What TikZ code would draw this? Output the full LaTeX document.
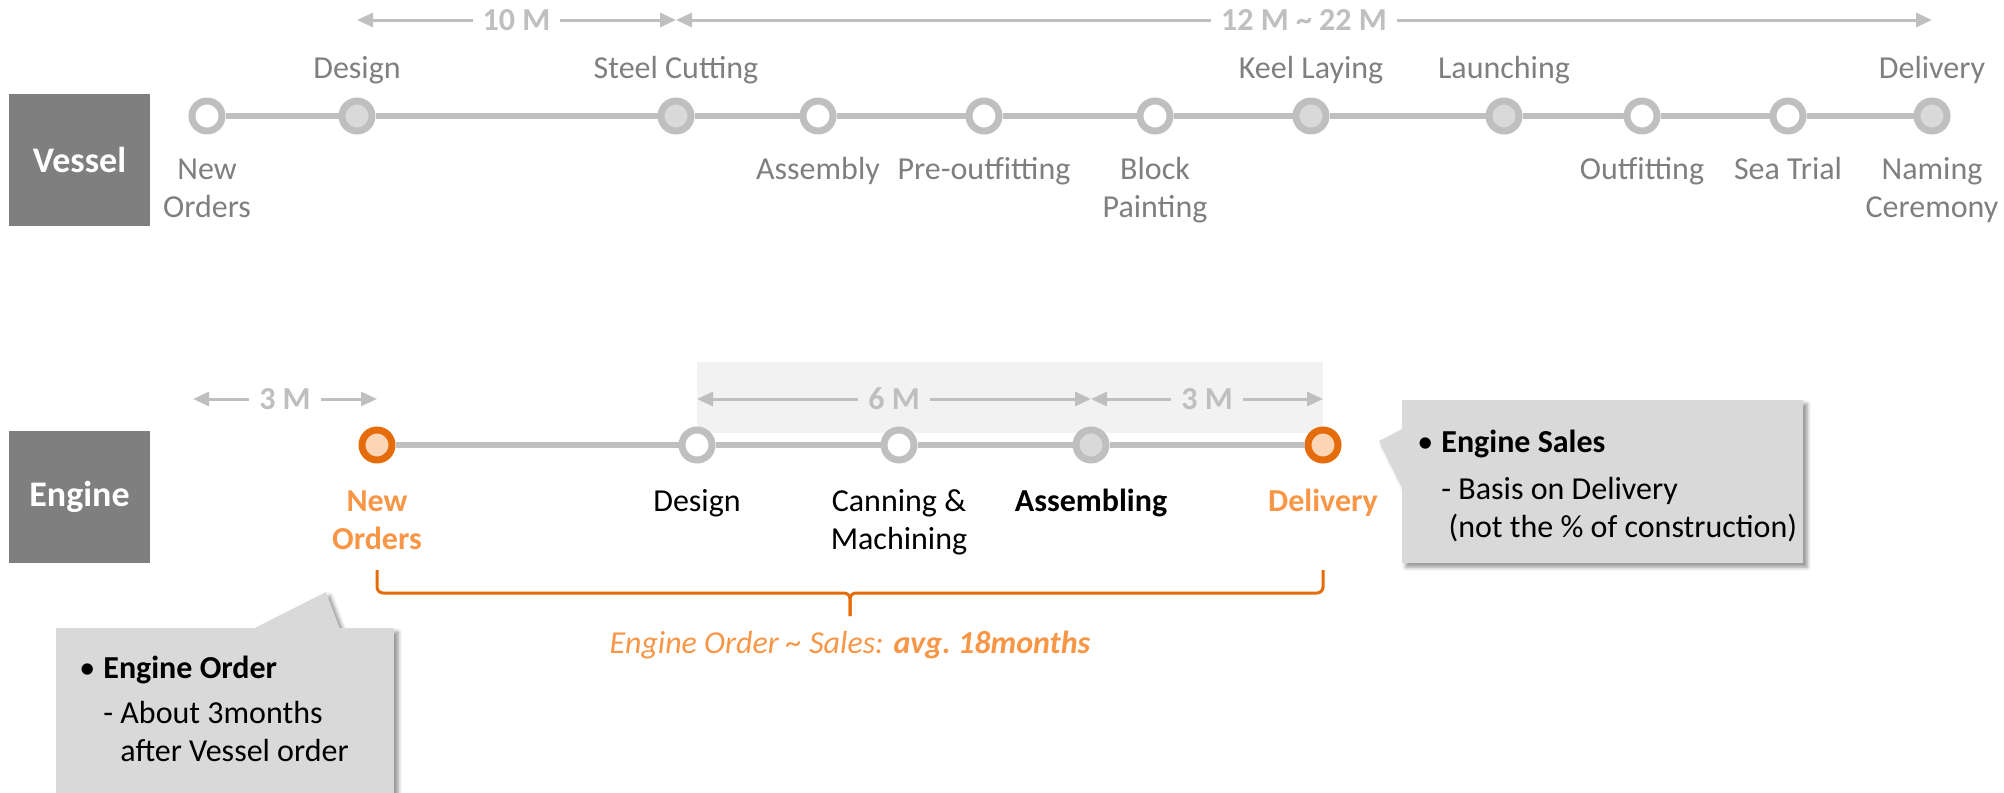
\documentclass[tikz,border=0pt]{standalone}
\usepackage{fontspec}
\setmainfont{Carlito}
\usetikzlibrary{arrows.meta,calc,shapes.callouts,shadows.blur}

\definecolor{boxgray}{HTML}{7F7F7F}
\definecolor{railgray}{HTML}{BFBFBF}
\definecolor{dotgray}{HTML}{D9D9D9}
\definecolor{bandgray}{HTML}{F2F2F2}
\definecolor{notegray}{HTML}{D9D9D9}
\definecolor{rimorange}{HTML}{E46C0A}
\definecolor{dotorange}{HTML}{FBD5B5}
\definecolor{txtorange}{HTML}{F79646}

\newcommand{\lblfont}{\fontsize{16}{19}\selectfont}

\begin{document}
\begin{tikzpicture}[
  x=0.5pt, y=-0.5pt,
  phase/.style={fill=boxgray, text=white, font=\fontsize{18}{22}\selectfont\bfseries, minimum width=70.5pt, minimum height=66pt, inner sep=0pt},
  stage/.style={circle, draw=railgray, fill=white, line width=3.5pt, inner sep=0pt, minimum size=15pt},
  donestage/.style={stage, fill=dotgray},
  keystage/.style={stage, draw=rimorange, fill=dotorange},
  rail/.style={draw=railgray, line width=3pt},
  span/.style={draw=railgray, line width=1.5pt, {Triangle[length=8pt,width=7pt]}-{Triangle[length=8pt,width=7pt]}},
  spanlbl/.style={fill=white, text=railgray, font=\lblfont\bfseries, inner xsep=5pt, inner ysep=1pt},
  vlbl/.style={text=boxgray, font=\lblfont, align=center, inner sep=0pt},
  elbl/.style={text=black, font=\lblfont, align=center, inner sep=0pt},
  elblbold/.style={elbl, font=\lblfont\bfseries},
  elblhot/.style={elbl, text=txtorange, font=\lblfont\bfseries},
  note/.style={rectangle callout, fill=notegray, inner sep=0pt,
    blur shadow={shadow xshift=2pt, shadow yshift=-2pt, shadow blur radius=2pt, shadow opacity=45}},
  notetxt/.style={text=black, font=\lblfont, align=left, inner sep=0pt},
  brace/.style={draw=rimorange, line width=1.5pt, rounded corners=3pt}
]
  \useasboundingbox (0,0) rectangle (2004,793);

  % rows of the two timelines
  \coordinate (vup) at (0,78);
  \coordinate (vdown) at (0,152.4);
  \coordinate (vspan) at (0,20);
  \coordinate (edown) at (0,484.4);
  \coordinate (espan) at (0,399);

  % production window, laid first so the stages sit on it
  \coordinate (bandnw) at (697,362);
  \coordinate (bandse) at (1323,433);
  \fill[bandgray] (bandnw) rectangle (bandse);

  % Vessel
  \node[phase] (vessel) at (79.5,159.5) {Vessel};
  \foreach \i/\x/\kind in {1/207/stage, 2/357/donestage, 3/676/donestage, 4/818/stage,
      5/984/stage, 6/1155/stage, 7/1311/donestage, 8/1504/donestage, 9/1642/stage,
      10/1788/stage, 11/1932/donestage}
    \node[\kind] (v\i) at (\x,116) {};
  \foreach \i [remember=\i as \j (initially 1)] in {2,...,11}
    \draw[rail] (v\j) -- (v\i);

  \foreach \i/\txt in {2/Design, 3/Steel Cutting, 7/Keel Laying, 8/Launching, 11/Delivery}
    \node[vlbl, anchor=base] (vt\i) at (v\i |- vup) {\txt};
  \foreach \i/\txt in {1/New\\Orders, 4/Assembly, 5/Pre-outfitting, 6/Block\\Painting,
      9/Outfitting, 10/Sea Trial, 11/Naming\\Ceremony}
    \node[vlbl, anchor=north] (vb\i) at (v\i |- vdown) {\strut\txt};

  \draw[span] (v2 |- vspan) -- node[spanlbl] (vm1) {10 M} (v3 |- vspan);
  \draw[span] (v3 |- vspan) -- node[spanlbl] (vm2) {12 M \textasciitilde{} 22 M} (v11 |- vspan);

  % Engine
  \node[phase] (engine) at (79.5,496.5) {Engine};
  \foreach \i/\x/\kind in {1/377/keystage, 2/697/stage, 3/899/stage, 4/1091/donestage, 5/1323/keystage}
    \node[\kind] (e\i) at (\x,445) {};
  \foreach \i [remember=\i as \j (initially 1)] in {2,...,5}
    \draw[rail] (e\j) -- (e\i);

  \foreach \i/\look/\txt in {1/elblhot/New\\Orders, 2/elbl/Design, 3/elbl/Canning \&\\Machining,
      4/elblbold/Assembling, 5/elblhot/Delivery}
    \node[\look, anchor=north] (el\i) at (e\i |- edown) {\strut\txt};

  \coordinate (eorigin) at (193,399);
  \draw[span] (eorigin) -- node[spanlbl] (em1) {3 M} (e1 |- espan);
  \draw[span] (e2 |- espan) -- node[spanlbl, fill=bandgray] (em2) {6 M} (e4 |- espan);
  \draw[span] (e4 |- espan) -- node[spanlbl, fill=bandgray] (em3) {3 M} (e5 |- espan);

  % order-to-sales brace
  \coordinate (bracetop) at (0,570);
  \coordinate (bracemid) at (0,593);
  \coordinate (braceknee) at ($(e1 |- bracemid)!.5!(e5 |- bracemid)$);
  \coordinate (bracetip) at ($(braceknee)+(0,23)$);
  \draw[brace] (e1 |- bracetop) -- (e1 |- bracemid) -- (braceknee) -- (bracetip);
  \draw[brace] (bracetip) -- (braceknee) -- (e5 |- bracemid) -- (e5 |- bracetop);
  \node[text=txtorange, font=\lblfont\itshape, anchor=base, inner sep=0pt] (lead)
    at (braceknee |- 0,653) {Engine Order \textasciitilde{} Sales: \textbf{avg.\ 18months}};

  % notes
  \coordinate (salestip) at (1379,441);
  \node[note, callout absolute pointer={(salestip)}, callout pointer width=29pt,
    minimum width=200.5pt, minimum height=81.5pt] (sales) at (1602.5,481.5) {};
  \node[notetxt, anchor=north west] (salestxt) at (1441,425.4)
    {\strut\llap{\textbullet\hspace{4pt}}\textbf{Engine Sales}\\[4.5pt]
     - Basis on Delivery\\
     \hspace*{3.6pt}(not the \% of construction)};

  \coordinate (ordertip) at (326,592);
  \node[note, callout absolute pointer={(ordertip)}, callout pointer width=42.5pt,
    minimum width=169pt, minimum height=90pt] (order) at (225,718) {};
  \node[notetxt, anchor=north west] (ordertxt) at (103,651.4)
    {\strut\llap{\textbullet\hspace{4pt}}\textbf{Engine Order}\\[3.5pt]
     - About 3months\\
     \hspace*{8.5pt}after Vessel order};
\end{tikzpicture}
\end{document}
